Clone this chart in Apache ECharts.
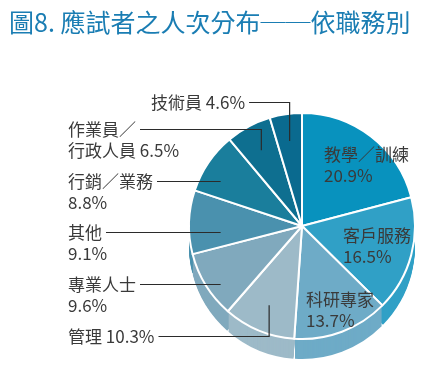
<!DOCTYPE html>
<html>
<head>
<meta charset="utf-8">
<script src="https://cdn.jsdelivr.net/npm/echarts@6/dist/echarts.min.js"></script>
<style>
  html, body { margin: 0; padding: 0; background: #fff; }
  #chart { width: 444px; height: 375px; }
</style>
</head>
<body>
<div id="chart"></div>
<script>
const categories = ['教學／訓練', '客戶服務', '科研專家', '管理', '專業人士', '其他', '行銷／業務', '作業員／\n行政人員', '技術員']
const values = [20.9, 16.5, 13.7, 10.3, 9.6, 9.1, 8.8, 6.5, 4.6]
// how name and percent sit together in each label
const joiners = ['\n', '\n', '\n', ' ', '\n', '\n', '\n', ' ', ' ']
const colors = ['#0892be', '#30a0c6', '#6eabc7', '#9dbac8', '#80a9bd', '#4a91ae', '#1a7e9c', '#0e6f90', '#0a6a8f']

const FONT = '"Noto Sans CJK TC", "Noto Sans CJK SC", sans-serif'
const FONT_SIZE = 17
const LINE_H = 21
const center = [302, 226]
const radius = 113
const depth = 20

// where each label's text block starts (left, top) and what kind of leader it gets
const labelBoxes = [
  { x: 324, y: 144, line: 'none' },
  { x: 343, y: 225, line: 'none' },
  { x: 306, y: 289, line: 'none' },
  { x: 68, y: 326, line: 'elbow' },
  { x: 68, y: 274, line: 'flat' },
  { x: 68, y: 222, line: 'flat' },
  { x: 68, y: 171, line: 'flat' },
  { x: 68, y: 119, line: 'elbow' },
  { x: 151, y: 92, line: 'elbow' }
]

const total = values.reduce((a, b) => a + b, 0)
const labelText = (i) => categories[i] + joiners[i] + values[i].toFixed(1) + '%'

const midAngle = (i) => {
  let before = 0
  for (let k = 0; k < i; k++) before += values[k]
  return (before + values[i] / 2) / total * Math.PI * 2
}

const ctx = document.createElement('canvas').getContext('2d')
ctx.font = FONT_SIZE + 'px ' + FONT
const measure = (s) => ctx.measureText(s).width

const series = []

// side of the cake: the same pie stacked downwards
for (let k = depth; k >= 1; k -= 1) {
  series.push({
    type: 'pie',
    silent: true,
    center: [center[0], center[1] + k],
    radius: radius,
    startAngle: 90,
    padAngle: 0.8,
    label: { show: false },
    labelLine: { show: false },
    itemStyle: { borderWidth: 0 },
    data: values.map((v, i) => ({ name: categories[i], value: v, itemStyle: { color: colors[i] } }))
  })
}

// top face
series.push({
  type: 'pie',
  center: center,
  radius: radius,
  startAngle: 90,
  label: { show: false },
  labelLine: { show: false },
  itemStyle: { borderColor: '#fff', borderWidth: 2 },
  data: values.map((v, i) => ({ name: categories[i], value: v, itemStyle: { color: colors[i] } }))
})

// invisible copy on top that carries the labels, so leader lines sit above the slices
series.push({
  type: 'pie',
  silent: true,
  z: 3,
  center: center,
  radius: radius,
  startAngle: 90,
  avoidLabelOverlap: false,
  itemStyle: { color: 'rgba(0,0,0,0)', borderWidth: 0 },
  label: {
    show: true,
    formatter: (p) => labelText(p.dataIndex),
    fontFamily: FONT,
    fontSize: FONT_SIZE,
    lineHeight: LINE_H,
    color: '#3a3a3a'
  },
  labelLine: { show: true, smooth: false, lineStyle: { color: '#2b2b2b', width: 1.2 } },
  labelLayout: (params) => {
    const i = params.dataIndex
    const b = labelBoxes[i]
    const out = { x: b.x, y: b.y, align: 'left', verticalAlign: 'top' }
    if (b.line !== 'none') {
      const first = labelText(i).split('\n')[0]
      const sx = b.x + measure(first) + 4
      const ly = b.y + LINE_H / 2
      let ex = center[0] - radius * 0.72
      let ey = ly
      if (b.line === 'elbow') {
        const a = midAngle(i)
        ex = center[0] + radius * 0.76 * Math.sin(a)
        ey = center[1] - radius * 0.76 * Math.cos(a)
      }
      out.labelLinePoints = [[sx, ly], [ex, ly], [ex, ey]]
    }
    return out
  },
  data: values.map((v, i) => ({
    name: categories[i],
    value: v,
    labelLine: { show: labelBoxes[i].line !== 'none' }
  }))
})

const chart = echarts.init(document.getElementById('chart'))
chart.setOption({
  animation: false,
  backgroundColor: '#fff',
  title: {
    text: '圖8. 應試者之人次分布──依職務別',
    left: 4,
    top: 5,
    textStyle: { fontFamily: FONT, fontSize: 25, fontWeight: 'normal', color: '#1a7db3' }
  },
  series: series
})
</script>
</body>
</html>
